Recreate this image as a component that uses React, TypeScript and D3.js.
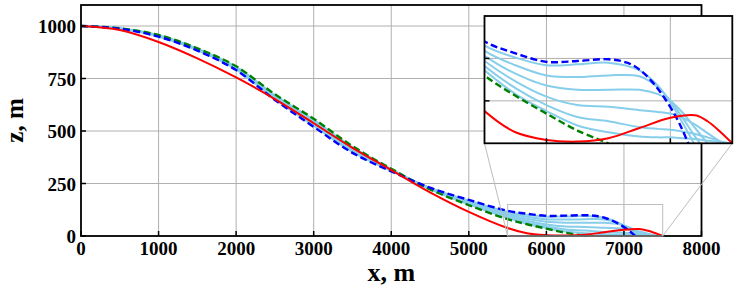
import React, { useRef, useEffect } from "react";
import * as d3 from "d3";

// shared x positions (m) for the upper part of every profile
const xHead = [0, 500, 1000, 1500, 2000, 2500, 3000, 3500, 4000, 4500, 5000, 5500];

const redHead = [1000, 981, 924, 846, 755, 652, 537, 420, 314, 208, 115, 38];
const redTailX = [5750, 6000, 6250, 6500, 6750, 7000, 7200, 7300, 7400, 7500];
const redTailZ = [13, 4, 2, 6, 18, 30, 33, 26, 14, 0];

const blueHead = [1000, 987, 949, 883, 790, 648, 520, 396, 308, 230, 172, 120];
const blueTailX = [5750, 6000, 6250, 6500, 6650, 6750, 6850, 6950, 7050, 7100, 7145];
const blueTailZ = [106, 96, 97, 99, 95, 87, 73, 54, 30, 15, 0];

const greenHead = [1000, 989, 957, 894, 808, 675, 558, 428, 320, 222, 147, 80];
const greenTailX = [5750, 6000, 6250, 6500];
const greenTailZ = [56, 35, 15, 0];

const lightHeads = [
  [1000, 988, 950, 885, 793, 652, 525, 401, 310, 229, 168, 115],
  [1000, 988, 951, 886, 795, 656, 531, 405, 311, 228, 165, 109],
  [1000, 988, 952, 888, 798, 660, 536, 410, 313, 227, 161, 103],
  [1000, 988, 954, 889, 800, 663, 542, 414, 315, 225, 158, 97],
  [1000, 988, 955, 891, 803, 667, 547, 419, 317, 224, 154, 91],
  [1000, 989, 956, 892, 805, 671, 553, 423, 318, 223, 151, 86],
];
const lightTailsX = [
  [5750, 6000, 6250, 6500, 6750, 6900, 7000, 7100, 7190],
  [5750, 6000, 6250, 6500, 6750, 6900, 7000, 7100, 7180, 7240],
  [5750, 6000, 6250, 6500, 6750, 6900, 7000, 7100, 7200, 7300],
  [5750, 6000, 6250, 6500, 6750, 6900, 7000, 7100, 7200, 7300, 7420],
  [5750, 6000, 6250, 6500, 6750, 6900, 7000, 7100, 7200, 7300, 7460],
  [5750, 6000, 6250, 6500, 6750, 6900, 7000, 7100, 7200, 7300, 7400, 7490],
];
const lightTailsZ = [
  [101, 92, 93, 95, 86, 68, 48, 24, 0],
  [92, 80, 78, 80, 79, 66, 50, 30, 12, 0],
  [82, 68, 63, 63, 63, 58, 50, 36, 18, 0],
  [73, 55, 45, 43, 39, 37, 35, 30, 22, 12, 0],
  [65, 45, 31, 26, 19, 17, 16, 14, 11, 7, 0],
  [58, 38, 21, 13, 8, 7, 7, 6, 5, 3, 1.5, 0],
];

const xTicks = [0, 1000, 2000, 3000, 4000, 5000, 6000, 7000, 8000];
const zTicks = [0, 250, 500, 750, 1000];
const insetXTicks = [6000, 7000];
const insetZTicks = [50, 100];

const toPts = (head, tx, tz) =>
  xHead.map((x, i) => [x, head[i]]).concat(tx.map((x, i) => [x, tz[i]]));

const App = () => {
  const svgRef = useRef();

  useEffect(() => {
    const svg = d3.select(svgRef.current);
    svg.selectAll("*").remove();

    const font = "'Liberation Serif', 'Times New Roman', serif";
    const grid = "#b0b0b0";

    const series = [
      ...lightHeads.map((h, i) => ({
        pts: toPts(h, lightTailsX[i], lightTailsZ[i]),
        color: "#87ceeb",
        dash: null,
        w: 2,
      })),
      { pts: toPts(greenHead, greenTailX, greenTailZ), color: "#008000", dash: "7,3.5", w: 2.4 },
      { pts: toPts(blueHead, blueTailX, blueTailZ), color: "#0000ff", dash: "7,3.5", w: 2.4 },
      { pts: toPts(redHead, redTailX, redTailZ), color: "#ff0000", dash: null, w: 2 },
    ];

    // main axes
    const x = d3.scaleLinear().domain([0, 8000]).range([81, 701.5]);
    const y = d3.scaleLinear().domain([0, 1100]).range([236, 5]);

    const defs = svg.append("defs");
    defs.append("clipPath").attr("id", "mainClip")
      .append("rect").attr("x", 81).attr("y", 5).attr("width", 620.5).attr("height", 231);

    const g = svg.append("g");

    g.selectAll(".vg").data(xTicks.slice(1, -1)).enter().append("line")
      .attr("x1", (d) => x(d)).attr("x2", (d) => x(d))
      .attr("y1", y(1100)).attr("y2", y(0))
      .attr("stroke", grid).attr("stroke-width", 1);
    g.selectAll(".hg").data(zTicks.slice(1)).enter().append("line")
      .attr("x1", x(0)).attr("x2", x(8000))
      .attr("y1", (d) => y(d)).attr("y2", (d) => y(d))
      .attr("stroke", grid).attr("stroke-width", 1);

    const curve = d3.curveCatmullRom.alpha(0.5);
    const mainLine = d3.line().curve(curve)
      .x((d) => x(d[0])).y((d) => y(d[1]));

    const lines = g.append("g").attr("clip-path", "url(#mainClip)");
    series.forEach((s) => {
      lines.append("path")
        .attr("d", mainLine(s.pts))
        .attr("fill", "none")
        .attr("stroke", s.color)
        .attr("stroke-width", s.w)
        .attr("stroke-dasharray", s.dash);
    });

    // ticks pointing inward
    g.selectAll(".xt").data(xTicks).enter().append("line")
      .attr("x1", (d) => x(d)).attr("x2", (d) => x(d))
      .attr("y1", y(0)).attr("y2", y(0) - 5)
      .attr("stroke", "#000").attr("stroke-width", 1.5);
    g.selectAll(".zt").data(zTicks).enter().append("line")
      .attr("x1", x(0)).attr("x2", x(0) + 5)
      .attr("y1", (d) => y(d)).attr("y2", (d) => y(d))
      .attr("stroke", "#000").attr("stroke-width", 1.5);

    g.append("rect")
      .attr("x", x(0)).attr("y", y(1100))
      .attr("width", x(8000) - x(0)).attr("height", y(0) - y(1100))
      .attr("fill", "none").attr("stroke", "#000").attr("stroke-width", 1.8);

    g.selectAll(".xl").data(xTicks).enter().append("text")
      .attr("x", (d) => x(d)).attr("y", 255)
      .attr("text-anchor", "middle")
      .attr("font-family", font).attr("font-weight", "bold").attr("font-size", 19)
      .text((d) => d);
    g.selectAll(".zl").data(zTicks).enter().append("text")
      .attr("x", 76).attr("y", (d) => y(d) + 7)
      .attr("text-anchor", "end")
      .attr("font-family", font).attr("font-weight", "bold").attr("font-size", 19)
      .text((d) => d);

    g.append("text")
      .attr("x", (x(0) + x(8000)) / 2).attr("y", 281)
      .attr("text-anchor", "middle")
      .attr("font-family", font).attr("font-weight", "bold").attr("font-size", 26)
      .text("x, m");
    g.append("text")
      .attr("transform", `translate(23,${(y(0) + y(1100)) / 2}) rotate(-90)`)
      .attr("text-anchor", "middle")
      .attr("font-family", font).attr("font-weight", "bold").attr("font-size", 25)
      .text("z, m");

    // inset
    const ix = d3.scaleLinear().domain([5500, 7500]).range([484.5, 732.3]);
    const iy = d3.scaleLinear().domain([0, 150]).range([143.3, 16]);

    // zoom marker and connectors
    g.append("rect")
      .attr("x", x(5500)).attr("y", y(150))
      .attr("width", x(7500) - x(5500)).attr("height", y(0) - y(150))
      .attr("fill", "none").attr("stroke", "#bdbdbd").attr("stroke-width", 1);
    g.append("line")
      .attr("x1", x(5500)).attr("y1", y(0)).attr("x2", ix(5500)).attr("y2", iy(0))
      .attr("stroke", "#bdbdbd").attr("stroke-width", 1);
    g.append("line")
      .attr("x1", x(7500)).attr("y1", y(0)).attr("x2", ix(7500)).attr("y2", iy(0))
      .attr("stroke", "#bdbdbd").attr("stroke-width", 1);

    defs.append("clipPath").attr("id", "insetClip")
      .append("rect").attr("x", ix(5500)).attr("y", iy(150))
      .attr("width", ix(7500) - ix(5500)).attr("height", iy(0) - iy(150));

    const ig = svg.append("g");
    ig.append("rect")
      .attr("x", ix(5500)).attr("y", iy(150))
      .attr("width", ix(7500) - ix(5500)).attr("height", iy(0) - iy(150))
      .attr("fill", "#fff");

    ig.selectAll(".ivg").data(insetXTicks).enter().append("line")
      .attr("x1", (d) => ix(d)).attr("x2", (d) => ix(d))
      .attr("y1", iy(150)).attr("y2", iy(0))
      .attr("stroke", grid).attr("stroke-width", 1);
    ig.selectAll(".ihg").data(insetZTicks).enter().append("line")
      .attr("x1", ix(5500)).attr("x2", ix(7500))
      .attr("y1", (d) => iy(d)).attr("y2", (d) => iy(d))
      .attr("stroke", grid).attr("stroke-width", 1);

    const insetLine = d3.line().curve(curve)
      .x((d) => ix(d[0])).y((d) => iy(d[1]));
    const ilines = ig.append("g").attr("clip-path", "url(#insetClip)");
    series.forEach((s) => {
      ilines.append("path")
        .attr("d", insetLine(s.pts))
        .attr("fill", "none")
        .attr("stroke", s.color)
        .attr("stroke-width", s.w)
        .attr("stroke-dasharray", s.dash);
    });

    ig.selectAll(".ixt").data(insetXTicks).enter().append("line")
      .attr("x1", (d) => ix(d)).attr("x2", (d) => ix(d))
      .attr("y1", iy(0)).attr("y2", iy(0) - 5)
      .attr("stroke", "#000").attr("stroke-width", 1.5);
    ig.selectAll(".izt").data(insetZTicks).enter().append("line")
      .attr("x1", ix(5500)).attr("x2", ix(5500) + 5)
      .attr("y1", (d) => iy(d)).attr("y2", (d) => iy(d))
      .attr("stroke", "#000").attr("stroke-width", 1.5);

    ig.append("rect")
      .attr("x", ix(5500)).attr("y", iy(150))
      .attr("width", ix(7500) - ix(5500)).attr("height", iy(0) - iy(150))
      .attr("fill", "none").attr("stroke", "#000").attr("stroke-width", 1.8);
  }, []);

  return (
    <svg
      ref={svgRef}
      width={737}
      height={294}
      style={{ position: "absolute", left: 0, top: 0, background: "#fff" }}
    ></svg>
  );
};

export default App;
